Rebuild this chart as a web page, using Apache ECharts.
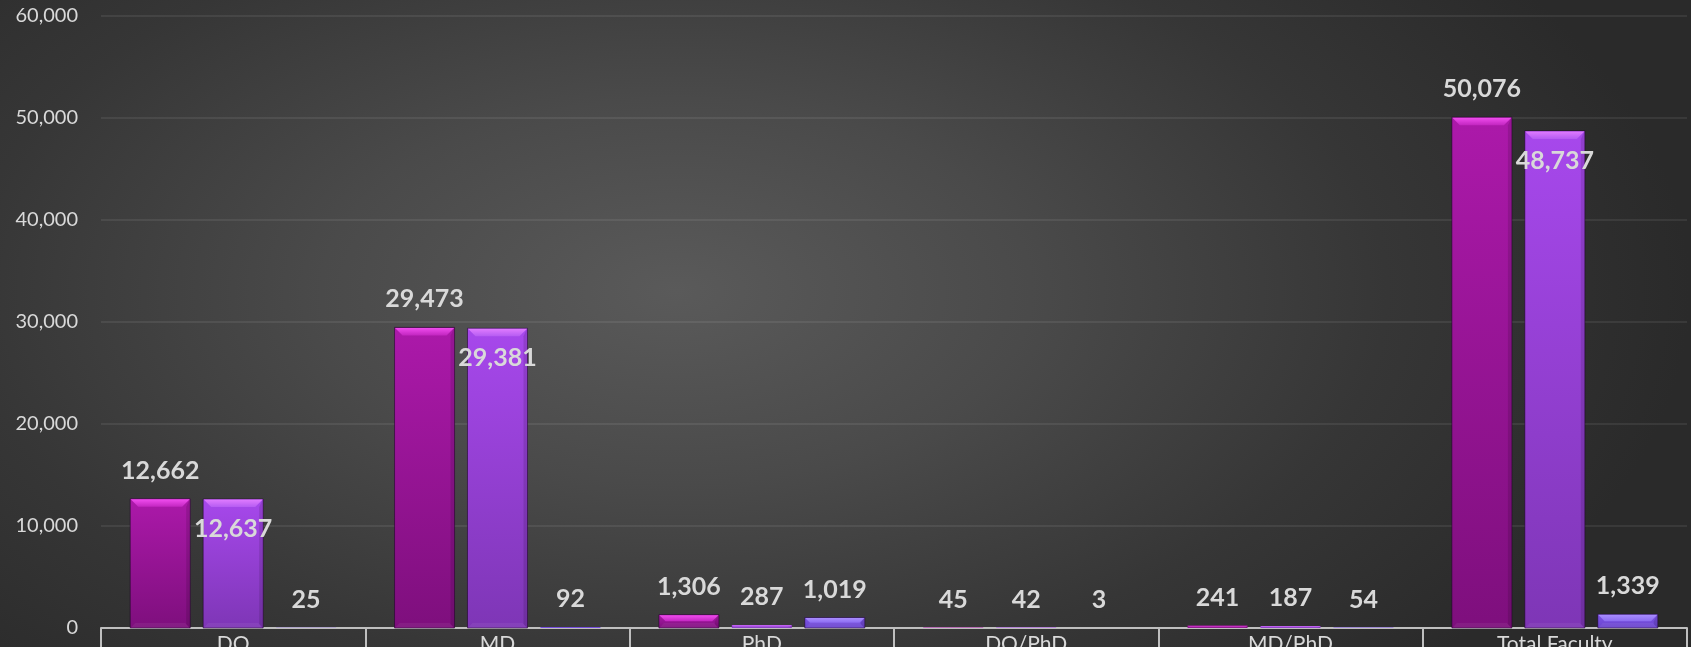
<!DOCTYPE html>
<html>
<head>
<meta charset="utf-8">
<script src="https://cdn.jsdelivr.net/npm/echarts@6/dist/echarts.min.js"></script>
<style>
  html, body { margin: 0; padding: 0; width: 1691px; height: 647px; overflow: hidden; }
  #chart {
    width: 1691px; height: 647px;
    background: radial-gradient(ellipse 60% 85% at 40% 45%, #5a5a5a 0%, #4a4a4a 35%, #363636 70%, #2a2a2a 100%);
  }
</style>
</head>
<body>
<div id="chart"></div>
<script>
const categories = ['DO', 'MD', 'PhD', 'DO/PhD', 'MD/PhD', 'Total Faculty'];
const totalValues = [12662, 29473, 1306, 45, 241, 50076];
const seriesBValues = [12637, 29381, 287, 42, 187, 48737];
const seriesCValues = [25, 92, 1019, 3, 54, 1339];
const yTickValues = [0, 10000, 20000, 30000, 40000, 50000, 60000];

const palettes = [
  { top: '#AC19AA', bottom: '#7E0F7D', bevelTop: '#F04CEE', bevelBottom: '#C226C0' },
  { top: '#A748EC', bottom: '#7E36B6', bevelTop: '#E07BFF', bevelBottom: '#B55CF2' },
  { top: '#7D55E8', bottom: '#6A44CC', bevelTop: '#A88CFF', bevelBottom: '#8C6CF0' }
];

function fmt(v) { return Number(v).toLocaleString('en-US'); }

function makeRender(k) {
  const pal = palettes[k];
  return function (params, api) {
    const idx = api.value(0), val = api.value(1);
    const c = api.coord([idx, val]);
    const c0 = api.coord([idx, 0]);
    const w = api.size([1, 0])[0];
    const bw = w * 0.227;
    const gap = w * 0.049;
    const cx = c[0] + (k - 1) * (bw + gap);
    const x0 = cx - bw / 2;
    const top = c[1], base = c0[1];
    const h = Math.max(base - top, 0);
    const b = Math.min(8, h / 2);
    const children = [];
    children.push({
      type: 'rect',
      shape: { x: x0, y: top, width: bw, height: h },
      style: {
        fill: new echarts.graphic.LinearGradient(0, 0, 0, 1, [
          { offset: 0, color: pal.top }, { offset: 1, color: pal.bottom }
        ]),
        stroke: h > 3 ? 'rgba(30,0,40,0.55)' : null, lineWidth: 1
      }
    });
    if (h > 1) {
      children.push({
        type: 'polygon',
        shape: { points: [[x0 + 0.5, top + 0.5], [x0 + bw - 0.5, top + 0.5], [x0 + bw - b, top + b], [x0 + b, top + b]] },
        style: {
          fill: new echarts.graphic.LinearGradient(0, 0, 0, 1, [
            { offset: 0, color: pal.bevelTop }, { offset: 1, color: pal.bevelBottom }
          ])
        }
      });
      children.push({
        type: 'polygon',
        shape: { points: [[x0 + bw - 0.5, top + 0.5], [x0 + bw - 0.5, base], [x0 + bw - 4, base - Math.min(4, b)], [x0 + bw - Math.min(4, b), top + b]] },
        style: { fill: 'rgba(0,0,0,0.12)' }
      });
      children.push({
        type: 'polygon',
        shape: { points: [[x0 + 0.5, base], [x0 + bw - 0.5, base], [x0 + bw - Math.min(5, b), base - Math.min(5, b)], [x0 + Math.min(5, b), base - Math.min(5, b)]] },
        style: { fill: 'rgba(255,255,255,0.06)' }
      });
    }
    const inside = (k === 1 && h > 60);
    children.push({
      type: 'text',
      z2: 20,
      style: {
        text: fmt(val),
        x: cx,
        y: inside ? top + 30 : top - 28,
        align: 'center',
        verticalAlign: 'middle',
        fill: '#D9D9D9',
        font: 'bold 25px Lato'
      }
    });
    return { type: 'group', children: children };
  };
}

const seriesValues = [totalValues, seriesBValues, seriesCValues];
const seriesNames = ['Total', 'Series 2', 'Series 3'];

const chart = echarts.init(document.getElementById('chart'), null, { renderer: 'canvas' });
chart.setOption({
  backgroundColor: 'transparent',
  animation: false,
  grid: { left: 101, right: 4, top: 16, bottom: 19, containLabel: false, outerBoundsMode: 'none' },
  xAxis: {
    type: 'category',
    data: categories,
    boundaryGap: true,
    axisLine: { show: true, lineStyle: { color: '#BFBFBF', width: 2 } },
    axisTick: { show: true, length: 30, lineStyle: { color: '#BFBFBF', width: 2 } },
    axisLabel: { color: '#D9D9D9', fontFamily: 'Lato', fontSize: 21, margin: 6 },
    splitLine: { show: false }
  },
  yAxis: {
    type: 'value',
    min: yTickValues[0],
    max: yTickValues[yTickValues.length - 1],
    interval: yTickValues[1] - yTickValues[0],
    axisLine: { show: false },
    axisTick: { show: false },
    axisLabel: { color: '#D9D9D9', fontFamily: 'Lato', fontSize: 20, margin: 23, formatter: v => fmt(v) },
    splitLine: { lineStyle: { color: 'rgba(255,255,255,0.1)', width: 1.5 } }
  },
  series: seriesValues.map((vals, k) => ({
    type: 'custom',
    name: seriesNames[k],
    renderItem: makeRender(k),
    encode: { x: 0, y: 1 },
    clip: false,
    z: 2 + k,
    data: vals.map((v, i) => [i, v])
  }))
});
</script>
</body>
</html>
